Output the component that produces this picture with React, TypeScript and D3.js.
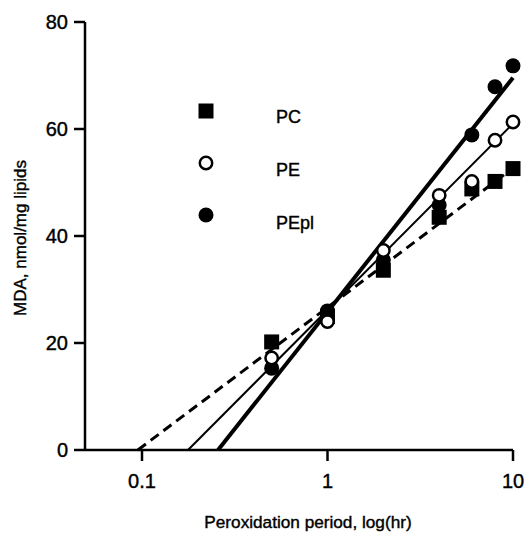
import React from "react";
import * as d3 from "d3";

const hours = [0.5, 1, 2, 4, 6, 8, 10];
const pcValues = [20.2, 25, 33.6, 43.5, 48.8, 50.2, 52.6];
const peValues = [17.2, 24, 37.3, 47.6, 50.2, 57.9, 61.3];
const peplValues = [15.3, 26, 35.5, 45.8, 58.9, 67.9, 71.8];

// regression line endpoints: [hour, value]
const pcFit: [number, number][] = [[0.095, 0], [10, 52.7]];
const peFit: [number, number][] = [[0.177, 0], [10, 61]];
const peplFit: [number, number][] = [[0.257, 0], [10, 69.6]];

const xTicks = [0.1, 1, 10];
const xTickLabels = ["0.1", "1", "10"];
const yTicks = [0, 20, 40, 60, 80];

const legendLabels = ["PC", "PE", "PEpl"];

const W = 528, H = 535;
const FONT = "'Liberation Sans', Arial, Helvetica, sans-serif";
const textStyle = { stroke: "#000", strokeWidth: 0.4 };

export default function App() {
  const x = d3.scaleLog().domain([0.1, 10]).range([142, 513]);
  const y = d3.scaleLinear().domain([0, 80]).range([450, 22]);
  const line = d3.line<[number, number]>().x(d => x(d[0])).y(d => y(d[1]));
  const xLeft = 85;

  const sq = 15;
  const rFill = 7.5;
  const rOpen = 6.2;

  return (
    <svg width={W} height={H} style={{ position: "absolute", left: 0, top: 0, background: "#fff" }}>
      {/* axes */}
      <line x1={xLeft} x2={xLeft} y1={y(80)} y2={y(0)} stroke="#000" strokeWidth={2.5} />
      <line x1={xLeft} x2={x(10)} y1={y(0)} y2={y(0)} stroke="#000" strokeWidth={2.5} />
      {yTicks.map(t => (
        <g key={"y" + t}>
          <line x1={xLeft - 11} x2={xLeft} y1={y(t)} y2={y(t)} stroke="#000" strokeWidth={2.5} />
          <text x={xLeft - 17} y={y(t)} dy="0.36em" textAnchor="end" fontFamily={FONT} fontSize={20} style={textStyle}>{t}</text>
        </g>
      ))}
      {xTicks.map((t, i) => (
        <g key={"x" + t}>
          <line x1={x(t)} x2={x(t)} y1={y(0)} y2={y(0) + 11} stroke="#000" strokeWidth={2.5} />
          <text x={x(t)} y={488} textAnchor="middle" fontFamily={FONT} fontSize={20} style={textStyle}>{xTickLabels[i]}</text>
        </g>
      ))}
      <text x={308} y={528} textAnchor="middle" fontFamily={FONT} fontSize={17.2} style={textStyle}>Peroxidation period, log(hr)</text>
      <text transform={`translate(26,238) rotate(-90)`} textAnchor="middle" fontFamily={FONT} fontSize={17} style={textStyle}>MDA, nmol/mg lipids</text>

      {/* regression lines */}
      <path d={line(pcFit) || ""} stroke="#000" strokeWidth={3} strokeDasharray="10,6" fill="none" />
      <path d={line(peFit) || ""} stroke="#000" strokeWidth={2} fill="none" />
      <path d={line(peplFit) || ""} stroke="#000" strokeWidth={4} fill="none" />

      {/* points */}
      {hours.map((h, i) => (
        <circle key={"pl" + i} cx={x(h)} cy={y(peplValues[i])} r={rFill} fill="#000" />
      ))}
      {hours.map((h, i) => (
        <rect key={"pc" + i} x={x(h) - sq / 2} y={y(pcValues[i]) - sq / 2} width={sq} height={sq} fill="#000" />
      ))}
      {hours.map((h, i) => (
        <circle key={"pe" + i} cx={x(h)} cy={y(peValues[i])} r={rOpen} fill="#fff" stroke="#000" strokeWidth={2.5} />
      ))}

      {/* legend */}
      <rect x={206 - sq / 2} y={111 - sq / 2} width={sq} height={sq} fill="#000" />
      <circle cx={206} cy={163} r={rOpen} fill="#fff" stroke="#000" strokeWidth={2.5} />
      <circle cx={206} cy={215} r={rFill} fill="#000" />
      {legendLabels.map((l, i) => (
        <text key={l} x={276} y={117 + i * 53} dy="0.36em" fontFamily={FONT} fontSize={18} style={textStyle}>{l}</text>
      ))}
    </svg>
  );
}
